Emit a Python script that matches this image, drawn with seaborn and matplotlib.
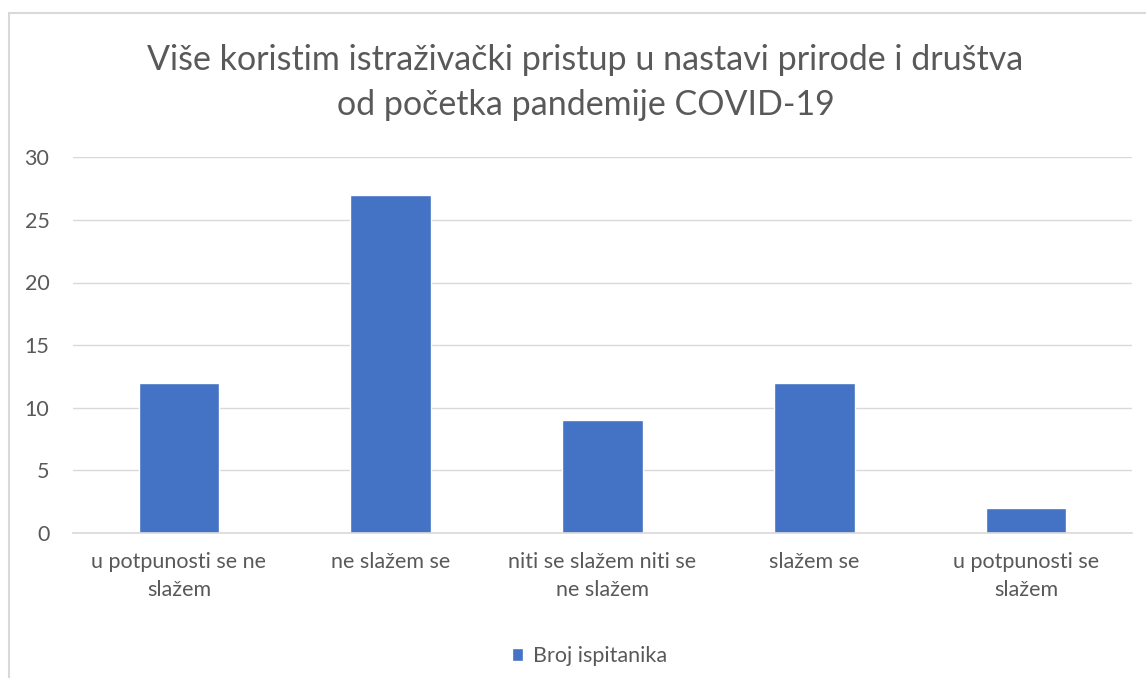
import numpy as np
import pandas as pd
import matplotlib.pyplot as plt
import seaborn as sns
from matplotlib.patches import Rectangle

# data
kategorije = ['u potpunosti se ne\nslažem', 'ne slažem se', 'niti se slažem niti se\nne slažem',
              'slažem se', 'u potpunosti se\nslažem']
broj = [12, 27, 9, 12, 2]
serija = 'Broj ispitanika'
naslov = 'Više koristim istraživački pristup u nastavi prirode i društva\nod početka pandemije COVID-19'

df = pd.DataFrame({'kat': kategorije, 'n': broj, 'serija': serija})

sns.set_theme(style='white')
plt.rcParams['font.family'] = ['Lato', 'DejaVu Sans']
txt = '#595959'

fig = plt.figure(figsize=(11.46, 6.78), dpi=100)
ax = fig.add_axes([0.0637, 0.214, 0.924, 0.554])

sns.barplot(data=df, x='kat', y='n', hue='serija', palette=['#4472C4'],
            width=0.381, ax=ax, saturation=1)

ax.set_ylim(0, 30)
ax.set_yticks(range(0, 31, 5))
ax.set_xlim(-0.5, len(kategorije) - 0.5)
ax.yaxis.grid(True, color='#D9D9D9', linewidth=1)
ax.set_axisbelow(True)
for s in ['top', 'right', 'left']:
    ax.spines[s].set_visible(False)
ax.spines['bottom'].set_color('#D9D9D9')
ax.spines['bottom'].set_linewidth(1.2)
ax.set_xlabel('')
ax.set_ylabel('')
ax.tick_params(axis='y', length=0, labelsize=15.5, labelcolor=txt, pad=17)
ax.tick_params(axis='x', which='major', length=0, labelsize=15.5, labelcolor=txt, pad=14)
for lbl in ax.get_xticklabels():
    lbl.set_linespacing(1.45)
ax.set_xticks(np.arange(-0.5, len(kategorije)), minor=True)
ax.tick_params(axis='x', which='minor', length=7, color='#D9D9D9', width=1.2)

fig.suptitle(naslov, fontsize=24.5, color=txt, x=0.511, y=0.935, linespacing=1.5)

leg = ax.legend(loc='upper center', bbox_to_anchor=(0.488, -0.25), frameon=False,
                fontsize=15.5, handlelength=0.5, handleheight=0.5, handletextpad=0.5)
for t in leg.get_texts():
    t.set_color(txt)

# chart area border (cut off at right/bottom like the screenshot)
fig.patches.append(Rectangle((9 / 1146, -0.05), 1.2, 1 - 13 / 678 + 0.05,
                             transform=fig.transFigure, fill=False,
                             edgecolor='#D9D9D9', linewidth=1.5))

fig.savefig('out.png', dpi=100)
